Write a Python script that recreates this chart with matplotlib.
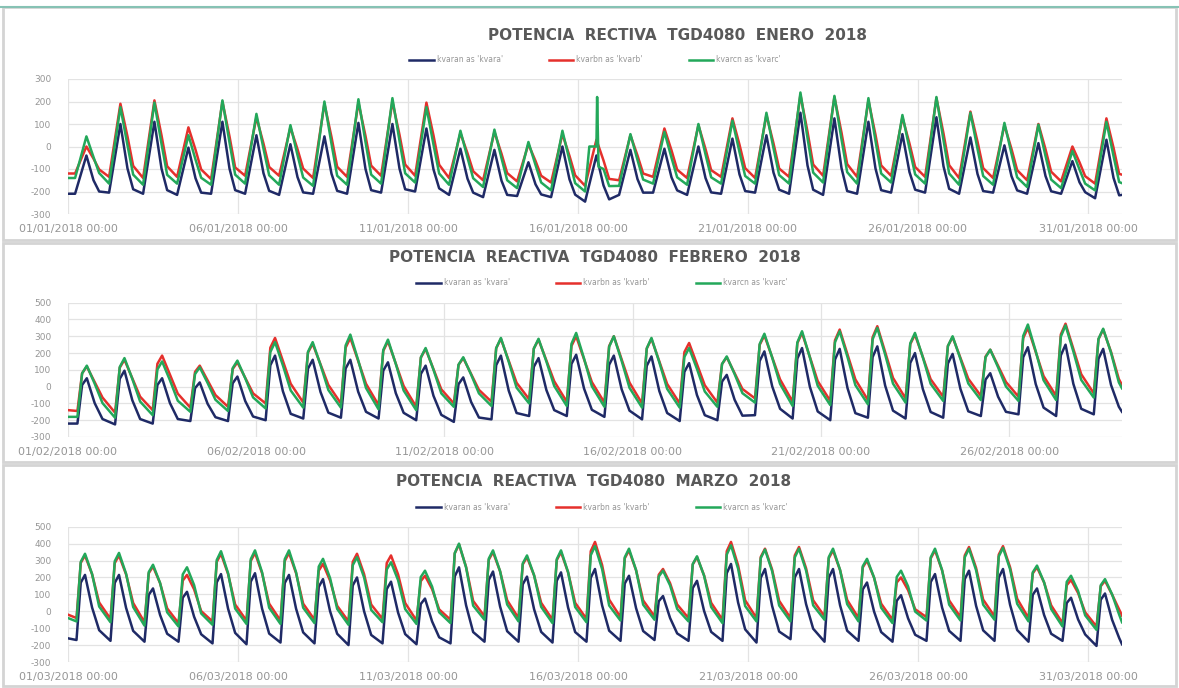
from datetime import datetime, timedelta

import matplotlib
matplotlib.use("Agg")
import matplotlib.pyplot as plt
import matplotlib.dates as mdates
from matplotlib.lines import Line2D
from matplotlib.patches import Rectangle

plt.rcParams["axes.unicode_minus"] = False
plt.rcParams["font.family"] = ["DejaVu Sans"]

SERIES = ["kvaran as 'kvara'", "kvarbn as 'kvarb'", "kvarcn as 'kvarc'"]
COLORES = ["#1f2a66", "#e5302c", "#23a85a"]

# ---------------- January ----------------
# readings per day at: night low, midday peak, late afternoon, evening
ene_horas = [5, 13, 18, 22]
ene_inicio = [-210, -120, -140]
ene_fin = [-215, -125, -163]

ene_a_noche = [-210, -205, -210, -215, -210, -210, -215, -210, -210, -205, -200, -215, -225, -220, -225, -245, -215, -205, -215, -210, -205, -210, -215, -210, -205, -205, -210, -205, -210, -210, -230]
ene_a_pico = [-40, 100, 110, -5, 110, 50, 10, 45, 105, 100, 80, -10, -15, -70, 0, -40, -15, -10, 0, 35, 50, 150, 125, 110, 55, 130, 40, 5, 15, -65, 30]
ene_a_tarde = [-150, -98, -98, -141, -98, -119, -136, -121, -100, -98, -102, -143, -152, -168, -146, -173, -145, -137, -140, -124, -116, -84, -96, -98, -114, -88, -122, -132, -131, -159, -139]
ene_a_ocaso = [-200, -190, -194, -205, -194, -197, -204, -197, -194, -190, -186, -205, -215, -213, -214, -235, -205, -195, -204, -198, -192, -192, -198, -194, -192, -188, -198, -195, -199, -203, -217]

ene_b_noche = [-120, -135, -140, -135, -145, -130, -130, -140, -135, -130, -130, -140, -150, -155, -160, -175, -150, -135, -140, -135, -140, -135, -130, -135, -130, -135, -140, -140, -150, -155, -165]
ene_b_pico = [0, 190, 205, 85, 200, 130, 85, 190, 195, 200, 195, 60, 65, 10, 55, 30, 50, 80, 95, 125, 140, 230, 220, 205, 130, 215, 155, 95, 100, 0, 125]
ene_b_tarde = [-54, 44, 50, -14, 45, 13, -12, 42, 47, 52, 49, -30, -32, -64, -42, -62, -40, -17, -11, 8, 14, 66, 62, 52, 13, 58, 22, -11, -12, -70, -5]
ene_b_ocaso = [-102, -86, -88, -102, -93, -91, -98, -90, -85, -80, -81, -110, -118, -130, -128, -144, -120, -103, -105, -96, -98, -80, -78, -84, -91, -83, -96, -105, -112, -132, -122]

ene_c_noche = [-140, -165, -170, -165, -170, -165, -170, -175, -170, -165, -160, -170, -180, -185, -195, -200, -175, -165, -170, -165, -165, -165, -160, -165, -160, -165, -170, -170, -180, -185, -195]
ene_c_pico = [45, 175, 195, 50, 205, 145, 95, 200, 210, 215, 175, 70, 75, 20, 70, 0, 55, 65, 100, 115, 150, 240, 225, 215, 140, 220, 150, 105, 97, -20, 110]
ene_c_tarde = [-47, 5, 12, -58, 18, -10, -38, 12, 20, 25, 8, -50, -52, -82, -62, -100, -60, -50, -35, -25, -8, 38, 32, 25, -10, 28, -10, -32, -42, -102, -42]
ene_c_ocaso = [-118, -125, -126, -139, -125, -128, -138, -130, -125, -119, -120, -141, -150, -160, -163, -176, -147, -137, -137, -131, -127, -116, -114, -120, -124, -120, -131, -137, -147, -165, -158]
# extra readings of kvarc on 16/01: (day, hour, value)
ene_c_extra = [(16, 8.0, 0), (16, 13.0, 0), (16, 13.5, 220), (16, 14.5, -90)]

# ---------------- February ----------------
# readings per day at: night low, morning rise, midday peak, late afternoon, evening
feb_horas = [6, 9, 12, 17, 22]
feb_inicio = [-220, -140, -180]
feb_fin = [-150, 10, -10]

feb_a_noche = [-220, -225, -220, -205, -205, -200, -190, -185, -190, -200, -210, -195, -175, -175, -180, -195, -205, -200, -170, -190, -200, -185, -190, -185, -175, -165, -175, -165]
feb_a_subida = [10, 47, 10, -9, 20, 127, 107, 108, 95, 76, 15, 128, 118, 135, 130, 124, 88, 30, 153, 167, 161, 176, 141, 138, 42, 175, 186, 166]
feb_a_pico = [50, 95, 50, 25, 60, 185, 160, 160, 145, 125, 55, 185, 170, 190, 185, 180, 140, 70, 210, 230, 225, 240, 200, 195, 80, 235, 250, 225]
feb_a_tarde = [-98, -81, -98, -102, -86, -27, -32, -30, -39, -54, -91, -24, -20, -11, -16, -26, -50, -78, 1, -1, -9, 6, -14, -14, -60, 15, 16, 10]
feb_a_ocaso = [-193, -193, -193, -182, -178, -162, -155, -150, -156, -168, -184, -157, -140, -138, -143, -157, -170, -173, -132, -148, -158, -143, -151, -147, -150, -125, -132, -120]

feb_b_noche = [-145, -155, -140, -125, -120, -100, -95, -100, -110, -120, -100, -90, -75, -90, -95, -100, -100, -95, -70, -90, -85, -80, -70, -60, -55, -60, -55, -40]
feb_b_subida = [80, 113, 136, 88, 105, 232, 203, 232, 213, 173, 130, 229, 227, 242, 241, 227, 206, 135, 249, 259, 276, 294, 253, 242, 179, 289, 311, 283]
feb_b_pico = [120, 160, 185, 125, 145, 290, 255, 290, 270, 225, 170, 285, 280, 300, 300, 285, 260, 175, 305, 320, 340, 360, 310, 295, 220, 350, 375, 340]
feb_b_tarde = [27, 50, 71, 38, 52, 154, 133, 154, 137, 104, 76, 154, 156, 164, 162, 150, 134, 81, 174, 177, 191, 206, 177, 171, 124, 207, 225, 207]
feb_b_ocaso = [-65, -60, -42, -50, -40, 17, 10, 17, 4, -16, -19, 23, 32, 27, 24, 16, 8, -14, 43, 33, 43, 52, 44, 47, 28, 63, 74, 45]

feb_c_noche = [-180, -185, -170, -150, -145, -130, -125, -125, -135, -140, -120, -115, -100, -115, -120, -125, -125, -120, -95, -115, -110, -105, -95, -85, -80, -85, -80, -65]
feb_c_subida = [79, 117, 102, 75, 110, 206, 207, 245, 218, 175, 131, 229, 227, 255, 237, 228, 177, 135, 254, 263, 264, 282, 258, 242, 175, 302, 298, 284]
feb_c_pico = [125, 170, 150, 115, 155, 265, 265, 310, 280, 230, 175, 290, 285, 320, 300, 290, 230, 180, 315, 330, 330, 350, 320, 300, 220, 370, 365, 345]
feb_c_tarde = [18, 46, 38, 22, 50, 127, 129, 158, 135, 101, 72, 148, 150, 168, 153, 145, 106, 75, 172, 174, 176, 191, 175, 165, 115, 211, 209, 202]
feb_c_ocaso = [-98, -89, -84, -78, -64, -23, -20, -8, -23, -40, -40, -6, 4, 2, -7, -13, -29, -39, 16, 5, 9, 18, 17, 19, 1, 38, 40, 25]

# ---------------- March ----------------
mar_horas = [6, 9, 12, 17, 22]
mar_inicio = [-160, -20, -40]
mar_fin = [-195, -25, -65]

mar_a_noche = [-170, -175, -180, -180, -190, -195, -185, -190, -200, -190, -195, -190, -180, -180, -185, -180, -175, -170, -175, -175, -185, -165, -180, -175, -180, -175, -175, -175, -180, -175, -205]
mar_a_subida = [169, 168, 97, 80, 171, 175, 167, 144, 152, 131, 43, 206, 185, 159, 180, 198, 164, 59, 137, 225, 198, 200, 198, 129, 62, 173, 190, 199, 97, 49, 68]
mar_a_pico = [215, 215, 135, 115, 220, 225, 215, 190, 200, 175, 75, 260, 235, 205, 230, 250, 210, 90, 180, 280, 250, 250, 250, 170, 95, 220, 240, 250, 135, 80, 105]
mar_a_tarde = [22, 20, -22, -32, 15, 15, 15, 0, 0, -8, -60, 35, 28, 12, 22, 35, 18, -40, 2, 52, 32, 42, 35, -2, -42, 22, 32, 38, -22, -48, -50]
mar_a_ocaso = [-112, -116, -133, -136, -128, -132, -125, -133, -140, -135, -154, -123, -118, -122, -123, -115, -117, -131, -122, -107, -120, -103, -115, -123, -139, -116, -113, -111, -133, -137, -158]

mar_b_noche = [-40, -45, -65, -70, -60, -55, -55, -50, -60, -45, -55, -50, -30, -40, -50, -45, -35, -30, -40, -50, -40, -40, -30, -40, -50, -35, -35, -30, -40, -70, -90]
mar_b_subida = [286, 285, 225, 181, 292, 297, 297, 240, 292, 285, 178, 342, 304, 277, 302, 355, 313, 216, 277, 355, 321, 330, 313, 259, 170, 313, 330, 335, 224, 154, 148]
mar_b_pico = [330, 330, 265, 215, 340, 345, 345, 280, 340, 330, 210, 395, 350, 320, 350, 410, 360, 250, 320, 410, 370, 380, 360, 300, 200, 360, 380, 385, 260, 185, 180]
mar_b_tarde = [219, 218, 166, 130, 220, 225, 225, 181, 220, 218, 131, 262, 236, 212, 230, 274, 242, 166, 212, 272, 247, 254, 243, 198, 125, 242, 256, 260, 170, 108, 99]
mar_b_ocaso = [52, 49, 17, 1, 40, 45, 45, 32, 40, 49, 11, 61, 65, 50, 50, 69, 64, 40, 50, 65, 62, 65, 67, 45, 12, 64, 69, 74, 35, -6, 10]

mar_c_noche = [-60, -65, -85, -90, -80, -75, -75, -70, -80, -65, -75, -70, -50, -60, -70, -65, -55, -50, -60, -70, -60, -60, -50, -60, -70, -55, -55, -50, -60, -90, -110]
mar_c_subida = [292, 296, 232, 218, 303, 308, 308, 264, 272, 247, 202, 344, 311, 283, 308, 331, 319, 205, 279, 335, 314, 318, 320, 266, 203, 319, 319, 324, 230, 174, 154]
mar_c_pico = [340, 345, 275, 260, 355, 360, 360, 310, 320, 290, 240, 400, 360, 330, 360, 385, 370, 240, 325, 390, 365, 370, 370, 310, 240, 370, 370, 375, 270, 210, 190]
mar_c_tarde = [220, 222, 167, 155, 225, 230, 230, 196, 200, 184, 146, 259, 237, 213, 231, 250, 243, 153, 210, 252, 238, 241, 244, 199, 147, 243, 243, 248, 171, 120, 100]
mar_c_ocaso = [28, 25, -6, -13, 16, 21, 21, 14, 8, 13, -6, 33, 40, 26, 25, 34, 39, 14, 25, 31, 34, 35, 42, 21, -2, 39, 39, 44, 13, -24, -20]


def serie(mes, horas, inicio, fin, lecturas, extra=()):
    """Time stamps and values of one series: start value, the daily readings
    taken at `horas`, any extra readings and the final value of the month."""
    t0 = datetime(2018, mes, 1)
    dias = len(lecturas[0])
    pts = [(t0, inicio)]
    for d in range(dias):
        base = t0 + timedelta(days=d)
        for h, lista in zip(horas, lecturas):
            pts.append((base + timedelta(hours=h), lista[d]))
    for dia, hora, v in extra:
        pts.append((t0 + timedelta(days=dia - 1, hours=hora), v))
    pts.append((t0 + timedelta(days=dias), fin))
    pts.sort(key=lambda p: p[0])
    return [p[0] for p in pts], [p[1] for p in pts]


PANELES = [
    dict(mes=1, dias=31, ylim=(-300, 300), horas=ene_horas,
         titulo="POTENCIA  RECTIVA  TGD4080  ENERO  2018",
         caja=(3, 7, 1176, 240), ejes=(68, 79, 1122, 214),
         titulo_xy=(678, 35), leyenda_xy=(595, 60),
         datos=[(ene_inicio[0], ene_fin[0], [ene_a_noche, ene_a_pico, ene_a_tarde, ene_a_ocaso], ()),
                (ene_inicio[1], ene_fin[1], [ene_b_noche, ene_b_pico, ene_b_tarde, ene_b_ocaso], ()),
                (ene_inicio[2], ene_fin[2], [ene_c_noche, ene_c_pico, ene_c_tarde, ene_c_ocaso], ene_c_extra)]),
    dict(mes=2, dias=28, ylim=(-300, 500), horas=feb_horas,
         titulo="POTENCIA  REACTIVA  TGD4080  FEBRERO  2018",
         caja=(3, 243, 1176, 462), ejes=(68, 302.7, 1122, 437),
         titulo_xy=(595, 258), leyenda_xy=(602, 283),
         datos=[(feb_inicio[0], feb_fin[0], [feb_a_noche, feb_a_subida, feb_a_pico, feb_a_tarde, feb_a_ocaso], ()),
                (feb_inicio[1], feb_fin[1], [feb_b_noche, feb_b_subida, feb_b_pico, feb_b_tarde, feb_b_ocaso], ()),
                (feb_inicio[2], feb_fin[2], [feb_c_noche, feb_c_subida, feb_c_pico, feb_c_tarde, feb_c_ocaso], ())]),
    dict(mes=3, dias=31, ylim=(-300, 500), horas=mar_horas,
         titulo="POTENCIA  REACTIVA  TGD4080  MARZO  2018",
         caja=(3, 465, 1176, 686), ejes=(68, 526.7, 1122, 662),
         titulo_xy=(594, 482), leyenda_xy=(602, 507),
         datos=[(mar_inicio[0], mar_fin[0], [mar_a_noche, mar_a_subida, mar_a_pico, mar_a_tarde, mar_a_ocaso], ()),
                (mar_inicio[1], mar_fin[1], [mar_b_noche, mar_b_subida, mar_b_pico, mar_b_tarde, mar_b_ocaso], ()),
                (mar_inicio[2], mar_fin[2], [mar_c_noche, mar_c_subida, mar_c_pico, mar_c_tarde, mar_c_ocaso], ())]),
]

W, H = 1179, 688
fig = plt.figure(figsize=(W / 100, H / 100), dpi=100)
fig.patch.set_facecolor("white")

GRIS_TXT = "#969696"
GRIS_REJ = "#e3e3e3"

for p in PANELES:
    # chart frame
    x0, y0, x1, y1 = p["caja"]
    fig.patches.append(Rectangle((x0 / W, 1 - y1 / H), (x1 - x0) / W, (y1 - y0) / H,
                                 transform=fig.transFigure, fill=False,
                                 edgecolor="#d4d4d4", linewidth=2.0))
    ex0, ey0, ex1, ey1 = p["ejes"]
    ax = fig.add_axes([ex0 / W, 1 - ey1 / H, (ex1 - ex0) / W, (ey1 - ey0) / H])
    t0 = datetime(2018, p["mes"], 1)
    ax.set_xlim(t0, t0 + timedelta(days=p["dias"]))
    ax.set_ylim(*p["ylim"])
    ax.set_yticks(range(p["ylim"][0], p["ylim"][1] + 1, 100))
    ax.set_xticks([t0 + timedelta(days=k) for k in range(0, p["dias"], 5)])
    ax.xaxis.set_major_formatter(mdates.DateFormatter("%d/%m/%Y %H:%M"))
    ax.grid(True, color=GRIS_REJ, linewidth=0.9)
    ax.set_axisbelow(True)
    for s in ax.spines.values():
        s.set_visible(False)
    ax.tick_params(axis="both", length=0, colors=GRIS_TXT)
    ax.tick_params(axis="y", labelsize=6.5, pad=12)
    ax.tick_params(axis="x", labelsize=8, pad=7)

    for (ini, fin, lect, ex), color, nombre in zip(p["datos"], COLORES, SERIES):
        t, v = serie(p["mes"], p["horas"], ini, fin, lect, ex)
        ax.plot(t, v, color=color, linewidth=1.8, label=nombre, solid_joinstyle="round")

    tx, ty = p["titulo_xy"]
    fig.text(tx / W, 1 - ty / H, p["titulo"], ha="center", va="center",
             fontsize=11, fontweight="bold", color="#595959")
    lx, ly = p["leyenda_xy"]
    handles = [Line2D([], [], color=c, linewidth=1.8) for c in COLORES]
    fig.legend(handles, SERIES, loc="center", bbox_to_anchor=(lx / W, 1 - ly / H),
               ncol=3, frameon=False, fontsize=5.5, labelcolor=GRIS_TXT,
               handlelength=3.2, handletextpad=0.4, columnspacing=6)

# top accent line of the first chart
fig.add_artist(Line2D([0, 1], [1 - 7 / H, 1 - 7 / H], transform=fig.transFigure,
                      color="#86c2b4", linewidth=1.5))

fig.savefig("out.png", dpi=100, facecolor="white")
